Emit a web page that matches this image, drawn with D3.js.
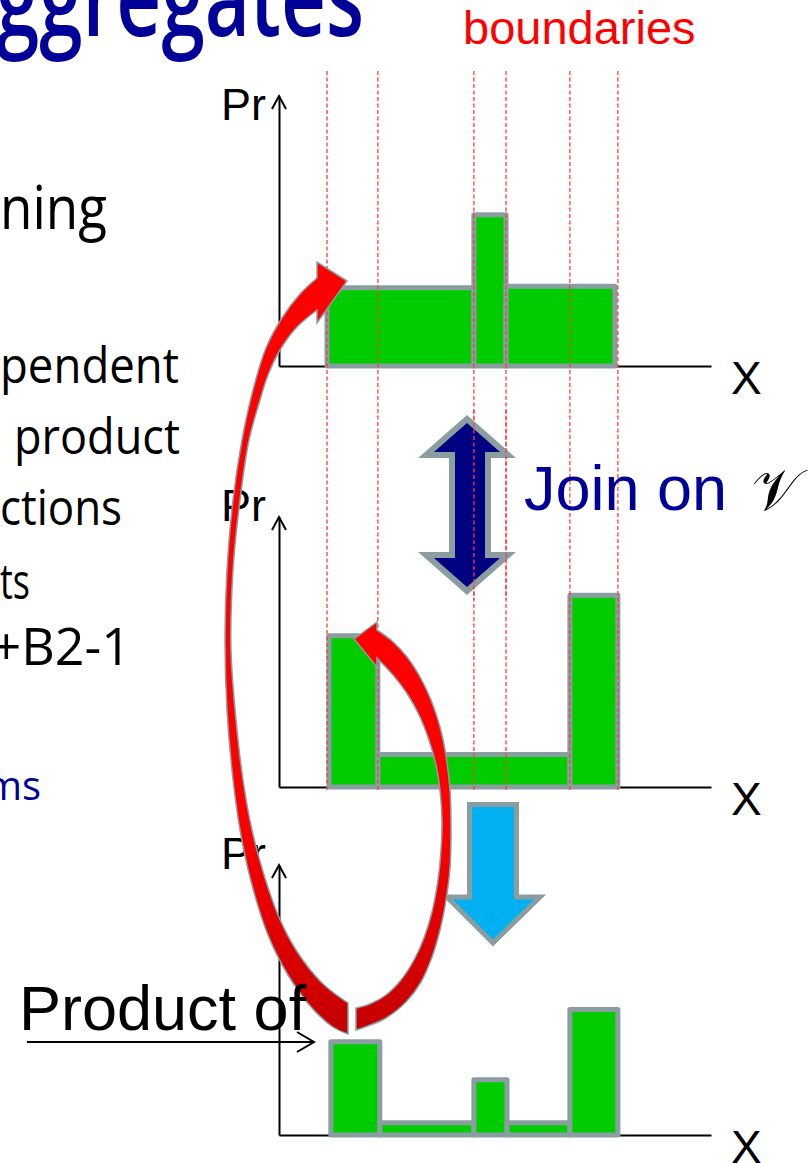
<!DOCTYPE html>
<html><head><meta charset="utf-8">
<script src="https://cdn.jsdelivr.net/npm/d3@7"></script>
<style>html,body{margin:0;padding:0;background:#fff;overflow:hidden}</style>
</head><body>
<svg id="c" width="810" height="1163" xmlns="http://www.w3.org/2000/svg"></svg>
<script>
// ---------- data ----------
const boundaries = [0, 1.06, 3.06, 3.73, 5.06, 6.06];
const histTopEdges = [0, 3.06, 3.73, 6.0];
const histTopValues = [0.29, 0.56, 0.295];
const histMidEdges = [0.04, 1.06, 5.06, 6.06];
const histMidValues = [0.56, 0.12, 0.71];
const productEdges = [0.08, 1.1, 3.06, 3.75, 5.06, 6.06];
const productValues = [0.345, 0.045, 0.205, 0.045, 0.465];
const xDomain = [-1, 8];
const yDomain = [0, 1];
const yLabel = "Pr";
const xLabel = "X";
const titleText = "ggregates";
const boundaryLabel = "boundaries";
const joinLabel = "Join on";
const joinSymbol = "\u{1D4B1}";
const productLabel = "Product of";
const bodyLines = [
  {t: "ning", x: 0, y: 229, w: 107, size: 60, anchor: "start", fill: "#000"},
  {t: "pendent", x: 0, y: 383, w: 179, size: 50, anchor: "start", fill: "#000"},
  {t: "product", x: 14, y: 454, w: 166, size: 50, anchor: "start", fill: "#000"},
  {t: "ctions", x: 0, y: 525, w: 122, size: 50, anchor: "start", fill: "#000"},
  {t: "ts", x: 0, y: 599, w: 30, size: 50, anchor: "start", fill: "#000"},
  {t: "B1+B2-1", x: 131, y: 665, w: null, size: 52, anchor: "end", fill: "#000"},
  {t: "ms", x: 41, y: 800, w: null, size: 40, anchor: "end", fill: "#000099"}
];

// ---------- layout ----------
const svg = d3.select("#c");
const x = d3.scaleLinear().domain(xDomain).range([279, 711]);
const charts = [
  {base: 366, edges: histTopEdges, values: histTopValues, prY: 120},
  {base: 787, edges: histMidEdges, values: histMidValues, prY: 521},
  {base: 1135, edges: productEdges, values: productValues, prY: 869}
];
const plotH = 270;
const GREEN = "#00cc00", GRAY = "#8a9ea2", NAVY = "#000099";

const defs = svg.append("defs");
const grad = defs.append("linearGradient").attr("id", "redg")
  .attr("gradientUnits", "userSpaceOnUse").attr("x1", 0).attr("y1", 820).attr("x2", 0).attr("y2", 1030);
grad.append("stop").attr("offset", 0).attr("stop-color", "#ff0000");
grad.append("stop").attr("offset", 1).attr("stop-color", "#c40000");

// title + left text
svg.append("text").attr("x", -4).attr("y", 36)
  .attr("font-family", "'Open Sans', sans-serif").attr("font-size", 108).attr("font-weight", 600)
  .attr("textLength", 368).attr("lengthAdjust", "spacingAndGlyphs")
  .attr("fill", NAVY).text(titleText);

bodyLines.forEach(l => {
  const t = svg.append("text").attr("x", l.x).attr("y", l.y)
    .attr("font-family", "'Open Sans', sans-serif").attr("font-size", l.size)
    .attr("text-anchor", l.anchor).attr("fill", l.fill).text(l.t);
  if (l.w) t.attr("textLength", l.w).attr("lengthAdjust", "spacingAndGlyphs");
});

svg.append("text").attr("x", 463).attr("y", 44)
  .attr("font-family", "'Liberation Sans', Arial, sans-serif").attr("font-size", 47)
  .attr("fill", "#ff0000").text(boundaryLabel);

// charts
charts.forEach(c => {
  const y = d3.scaleLinear().domain(yDomain).range([c.base, c.base - plotH]);
  const g = svg.append("g");
  g.append("g").attr("transform", `translate(0,${c.base})`)
    .call(d3.axisBottom(x).tickValues([]).tickSizeOuter(0))
    .call(s => s.select(".domain").attr("stroke", "#000").attr("stroke-width", 2));
  g.append("g").attr("transform", `translate(${x(xDomain[0])},0)`)
    .call(d3.axisLeft(y).tickValues([]).tickSizeOuter(0))
    .call(s => s.select(".domain").attr("stroke", "#000").attr("stroke-width", 2));
  const tipX = x(xDomain[0]), tipY = y(yDomain[1]);
  g.append("path").attr("d", `M${tipX - 7},${tipY + 13}L${tipX},${tipY}L${tipX + 7},${tipY + 13}`)
    .attr("fill", "none").attr("stroke", "#000").attr("stroke-width", 2);
  g.append("text").attr("x", 221).attr("y", c.prY)
    .attr("font-family", "'Liberation Sans', Arial, sans-serif").attr("font-size", 45)
    .attr("fill", "#000").text(yLabel);
  g.append("text").attr("x", 731).attr("y", c.base + 28)
    .attr("font-family", "'Liberation Sans', Arial, sans-serif").attr("font-size", 46)
    .attr("fill", "#000").text(xLabel);
  const bins = c.values.map((v, i) => ({x0: c.edges[i], x1: c.edges[i + 1], v}));
  g.selectAll("rect.bar").data(bins).join("rect").attr("class", "bar")
    .attr("x", d => x(d.x0)).attr("width", d => x(d.x1) - x(d.x0))
    .attr("y", d => y(d.v)).attr("height", d => c.base - y(d.v))
    .attr("fill", GREEN).attr("stroke", GRAY).attr("stroke-width", 5)
    .attr("stroke-linejoin", "round");
});

// boundary dashed lines
function dashed(sel, y1, y2, filter) {
  sel.append("g").selectAll("line").data(boundaries.filter(filter)).join("line")
    .attr("x1", d => x(d)).attr("x2", d => x(d)).attr("y1", y1).attr("y2", y2)
    .attr("stroke", "#ff3a3a").attr("stroke-width", 1.3).attr("stroke-dasharray", "4,2.5");
}
dashed(svg, 71, 790, () => true);

// join double arrow
const dbl = [[467,419],[426,455],[452,455],[452,555],[426,555],[467,591],[508,555],[488,555],[488,455],[508,455]];
svg.append("polygon").attr("points", dbl.map(p => p.join(",")).join(" "))
  .attr("fill", "#000080").attr("stroke", GRAY).attr("stroke-width", 6);
dashed(svg, 410, 600, b => x(b) > 420 && x(b) < 515);

svg.append("text").attr("x", 524).attr("y", 510)
  .attr("font-family", "'Liberation Sans', Arial, sans-serif").attr("font-size", 63)
  .attr("fill", NAVY).text(joinLabel);
svg.append("text").attr("x", 752).attr("y", 510)
  .attr("font-family", "'DejaVu Serif', 'DejaVu Sans', serif").attr("font-size", 58)
  .attr("fill", "#000").text(joinSymbol);

// down arrow (light blue)
const down = [[469.5,804.5],[516.5,804.5],[516.5,897],[540,897],[493,943],[447,897],[469.5,897]];
svg.append("polygon").attr("points", down.map(p => p.join(",")).join(" "))
  .attr("fill", "#00b0f0").attr("stroke", GRAY).attr("stroke-width", 5);

// curved red arrows
const smooth = d3.line().curve(d3.curveCatmullRom.alpha(0.5));
function arrowPath(tip, backTop, outer, inner, backBottom) {
  let d = `M${tip[0]},${tip[1]}L${backTop[0]},${backTop[1]}`;
  d += "L" + smooth(outer).slice(1);
  d += "L" + smooth(inner).slice(1);
  d += `L${backBottom[0]},${backBottom[1]}Z`;
  return d;
}
const arrowA = {
  tip: [347,281], backTop: [317,262], backBottom: [317,323],
  outer: [[317,278],[300,294],[282,318],[266,348],[253,390],[242,440],[233,500],[227,570],[225,640],[227,710],[232,770],[240,830],[252,885],[268,935],[288,975],[312,1008],[333,1027],[348,1034]],
  inner: [[348,1003],[322,983],[296,950],[278,915],[264,875],[252,830],[243,780],[236,720],[231,650],[233,570],[240,500],[249,440],[260,400],[268,375],[280,350],[296,328],[317,310]]
};
const arrowB = {
  tip: [354,639], backTop: [377,622], backBottom: [377,667],
  outer: [[377,630],[392,641],[407,657],[420,677],[431,700],[440,727],[446,756],[450,790],[451,830],[450,868],[446,900],[440,930],[432,957],[421,982],[406,1002],[386,1018],[365,1027],[356,1030]],
  inner: [[356,1008],[370,1004],[386,995],[401,980],[414,960],[424,938],[432,912],[438,880],[441,850],[442,820],[440,790],[436,765],[429,740],[420,717],[408,695],[393,675],[377,658]]
};
[arrowA, arrowB].forEach(a => {
  svg.append("path").attr("d", arrowPath(a.tip, a.backTop, a.outer, a.inner, a.backBottom))
    .attr("fill", "url(#redg)").attr("stroke", GRAY).attr("stroke-width", 1.5)
    .attr("stroke-linejoin", "miter");
});

// product label + pointer arrow
svg.append("text").attr("x", 19).attr("y", 1030)
  .attr("font-family", "'Liberation Sans', Arial, sans-serif").attr("font-size", 63)
  .attr("fill", "#000").text(productLabel);
svg.append("path").attr("d", "M27,1042H314M297,1032L314,1042L297,1052")
  .attr("fill", "none").attr("stroke", "#000").attr("stroke-width", 2);
</script>
</body></html>
